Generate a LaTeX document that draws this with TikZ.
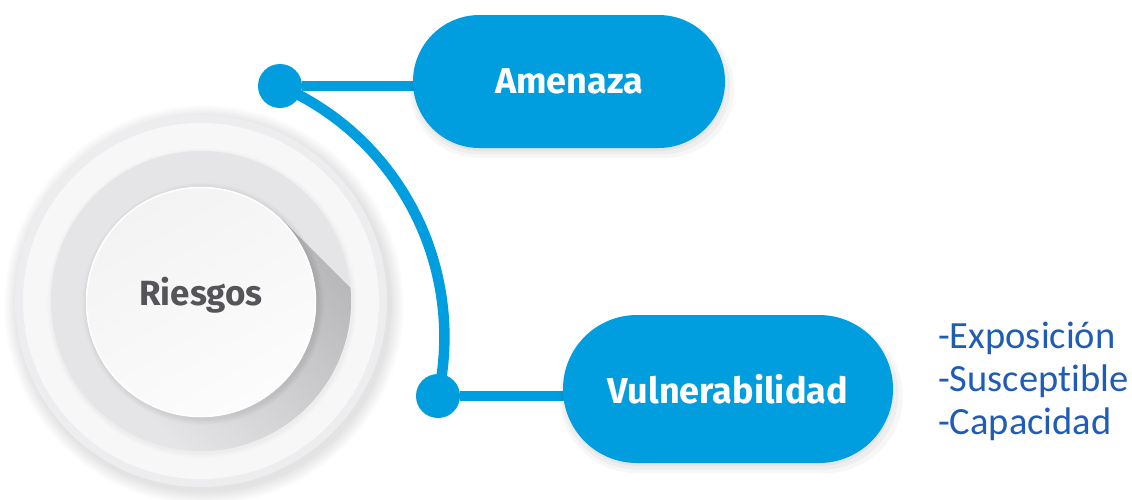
\documentclass[tikz,border=0pt]{standalone}
\usepackage{fontspec}
\setmainfont{Fira Sans}
\newfontfamily\listfont[Ligatures={NoCommon}]{Carlito}
\usetikzlibrary{shapes.misc,shadows}
\definecolor{cblue}{HTML}{009DDF}
\definecolor{ltext}{HTML}{1F5CB8}
\definecolor{rtext}{HTML}{555559}
\definecolor{outerg}{HTML}{EDEDEF}
\definecolor{bandg}{HTML}{F7F7F8}
\definecolor{ringg}{HTML}{E5E5E8}
\definecolor{shdark}{HTML}{B4B4B7}
\definecolor{shlight}{HTML}{E8E8EA}
\definecolor{innertop}{HTML}{F3F3F4}
\definecolor{innerbot}{HTML}{FCFCFC}
\pgfdeclarelayer{bg}
\pgfdeclarelayer{mid}
\pgfsetlayers{bg,mid,main}
\begin{document}
\begin{tikzpicture}[x=1pt,y=-1pt,
  conn/.style={draw=cblue, line width=10.5pt},
  dotnode/.style={circle, fill=cblue, minimum size=44pt, inner sep=0pt},
  pshadow/.style={
    general shadow={fill=black, opacity=.03, shadow xshift=3pt, shadow yshift=-7pt, shadow scale=1.04},
    general shadow={fill=black, opacity=.035, shadow xshift=2pt, shadow yshift=-5pt, shadow scale=1.02},
    general shadow={fill=black, opacity=.04, shadow xshift=1pt, shadow yshift=-3pt, shadow scale=1.0}},
  pill/.style={rounded rectangle, fill=cblue, text=white, inner sep=0pt,
    font=\bfseries\fontsize{36}{40}\selectfont, pshadow},
  listtxt/.style={anchor=base west, text=ltext, inner sep=0pt,
    font=\listfont\fontsize{38.5}{42}\selectfont}]
\useasboundingbox (0,0) rectangle (1132,499);

% ---------- central circle art ----------
\begin{pgfonlayer}{bg}
  \fill[white] (0,0) rectangle (1132,499);
  \foreach \k in {1,...,14}
    \fill[black, opacity=0.009] (204,305) circle ({186+\k});
  \fill[outerg] (201,301) circle (186);
  \fill[bandg] (201,301) circle (178);
  \foreach \k in {1,...,5}
    \fill[black, opacity=0.008] (202,303) circle ({150+\k});
  \fill[ringg] (201,301) circle (150);
  \begin{scope}
    \clip (201,301) circle (150);
    \shade[top color=shdark, bottom color=shlight, shading angle=-45]
      (282.3,219.7) -- (392.3,329.7) -- (229.7,492.3) -- (119.7,382.3) -- cycle;
  \end{scope}
  \foreach \k in {1,...,6}
    \fill[black, opacity=0.012] (203,304) circle ({115+\k});
  \shade[top color=innertop, bottom color=innerbot, shading angle=30]
    (201,302) circle (115);
  \draw[white, line width=1.5pt] (201,302) circle (114.5);
\end{pgfonlayer}

% ---------- nodes ----------
\node[font=\bfseries\fontsize{35}{40}\selectfont, text=rtext, anchor=base, inner sep=0pt]
  (ries) at (201,305) {Riesgos};

\node[pill, minimum width=312pt, minimum height=133pt] (amen) at (569,81.5) {Amenaza};
\node[pill, minimum width=330pt, minimum height=148pt] (vuln) at (728,389) {Vulnerabilidad};

\node[dotnode] (d1) at (280,86) {};
\node[dotnode] (d2) at (438,396) {};

\node[listtxt] (l1) at (938,348) {-Exposición};
\node[listtxt] (l2) at (938,391) {-Susceptible};
\node[listtxt] (l3) at (938,434) {-Capacidad};

% ---------- connectors ----------
\begin{pgfonlayer}{mid}
  \draw[conn] (d1) -- (d1 -| amen.center);
  \draw[conn] (d2) -- (d2 -| vuln.center);
  \draw[conn] (d1.center) .. controls (400,138) and (466,268) .. (d2.center);
\end{pgfonlayer}
\end{tikzpicture}
\end{document}
